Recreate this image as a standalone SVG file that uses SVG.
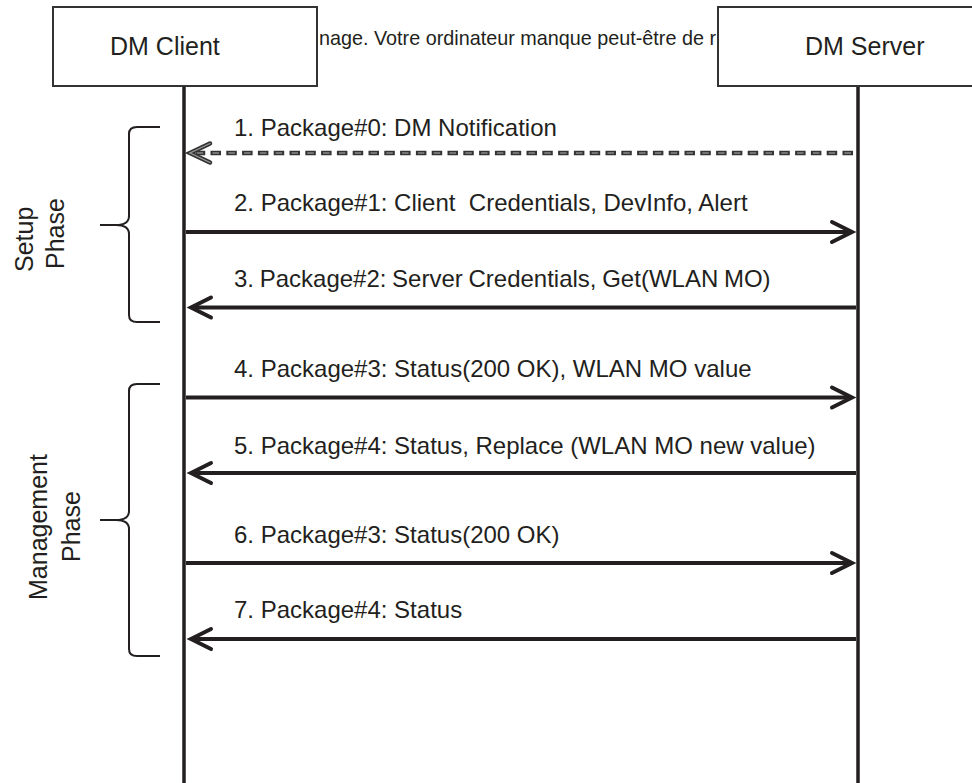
<svg xmlns="http://www.w3.org/2000/svg" width="972" height="783" viewBox="0 0 972 783">
  <style>
    text { font-family: "Liberation Sans", Arial, sans-serif; fill: #231f20; }
    .box { fill: #fff; stroke: #333; stroke-width: 2; }
    .life { stroke: #231f20; stroke-width: 3.5; fill: none; }
    .msg { stroke: #231f20; stroke-width: 4; fill: none; }
    .head { stroke: #231f20; stroke-width: 4; fill: none; stroke-linecap: round; stroke-linejoin: miter; }
    .brace { stroke: #231f20; stroke-width: 2; fill: none; }
    .lbl { font-size: 24px; }
    .phase { font-size: 25px; }
    .title { font-size: 25px; }
  </style>

  <!-- leftover caption under the participant boxes -->
  <text x="319" y="45" font-size="19.8">nage. Votre ordinateur manque peut-être de r</text>

  <!-- lifelines -->
  <g id="lifelines">
    <line class="life" x1="184" y1="86" x2="184" y2="783"/>
    <line class="life" x1="858" y1="86" x2="858" y2="783"/>
  </g>

  <g id="dm-client">
    <rect class="box" x="53" y="7" width="264" height="79"/>
    <text class="title" x="110" y="55">DM Client</text>
  </g>

  <g id="dm-server">
    <rect class="box" x="718" y="7" width="280" height="79"/>
    <text class="title" x="805" y="55">DM Server</text>
  </g>

  <!-- phase braces -->
  <g id="setup-phase">
    <path class="brace" d="M160,127 L137,127 C132,127 129,129 129,134 L129,216 C129,222 125,225 116,225 L100,225 M116,225 C125,225 129,228 129,234 L129,315 C129,320 132,322 137,322 L160,322"/>
    <text class="phase" transform="translate(33,272) rotate(-90)">Setup</text>
    <text class="phase" transform="translate(64,269) rotate(-90)">Phase</text>
  </g>

  <g id="management-phase">
    <path class="brace" d="M160,384 L137,384 C132,384 129,386 129,391 L129,511 C129,517 125,520 116,520 L100,520 M116,520 C125,520 129,523 129,529 L129,649 C129,654 132,656 137,656 L160,656"/>
    <text class="phase" transform="translate(47,600) rotate(-90)">Management</text>
    <text class="phase" transform="translate(80,562) rotate(-90)">Phase</text>
  </g>

  <!-- messages -->
  <g id="connectors">
    <!-- 1: dashed notification, server to client -->
    <line x1="853" y1="153" x2="196" y2="153" stroke="#333" stroke-width="4.5" stroke-dasharray="10.5 5.3"/>
    <line x1="851" y1="153" x2="196" y2="153" stroke="#8a8a8a" stroke-width="1.4" stroke-dasharray="6.5 9.3"/>
    <polyline points="210,143.5 190,153 210,162.5" fill="none" stroke="#333" stroke-width="4.5" stroke-linecap="round"/>
    <polyline points="210,143.5 190,153 210,162.5" fill="none" stroke="#9a9a9a" stroke-width="1.3" stroke-linecap="round"/>

    <!-- 2: client to server -->
    <line class="msg" x1="186" y1="232" x2="851" y2="232"/>
    <polyline class="head" points="832,222 852,232 832,242"/>

    <!-- 3: server to client -->
    <line class="msg" x1="856" y1="307.5" x2="191" y2="307.5"/>
    <polyline class="head" points="211,297.5 191,307.5 211,317.5"/>

    <!-- 4: client to server -->
    <line class="msg" x1="186" y1="397.5" x2="851" y2="397.5"/>
    <polyline class="head" points="832,387.5 852,397.5 832,407.5"/>

    <!-- 5: server to client -->
    <line class="msg" x1="856" y1="473" x2="191" y2="473"/>
    <polyline class="head" points="211,463 191,473 211,483"/>

    <!-- 6: client to server -->
    <line class="msg" x1="186" y1="563" x2="851" y2="563"/>
    <polyline class="head" points="832,553 852,563 832,573"/>

    <!-- 7: server to client -->
    <line class="msg" x1="856" y1="639" x2="191" y2="639"/>
    <polyline class="head" points="211,629 191,639 211,649"/>
  </g>

  <!-- message labels -->
  <g id="labels">
    <text class="lbl" x="234" y="136">1. Package#0: DM Notification</text>
    <text class="lbl" x="234" y="211">2. Package#1: Client&#160; Credentials, DevInfo, Alert</text>
    <text class="lbl" x="234" y="287" word-spacing="-1">3. Package#2: Server Credentials, Get(WLAN MO)</text>
    <text class="lbl" x="234" y="377">4. Package#3: Status(200 OK), WLAN MO value</text>
    <text class="lbl" x="234" y="454">5. Package#4: Status, Replace (WLAN MO new value)</text>
    <text class="lbl" x="234" y="543">6. Package#3: Status(200 OK)</text>
    <text class="lbl" x="234" y="618">7. Package#4: Status</text>
  </g>
</svg>
